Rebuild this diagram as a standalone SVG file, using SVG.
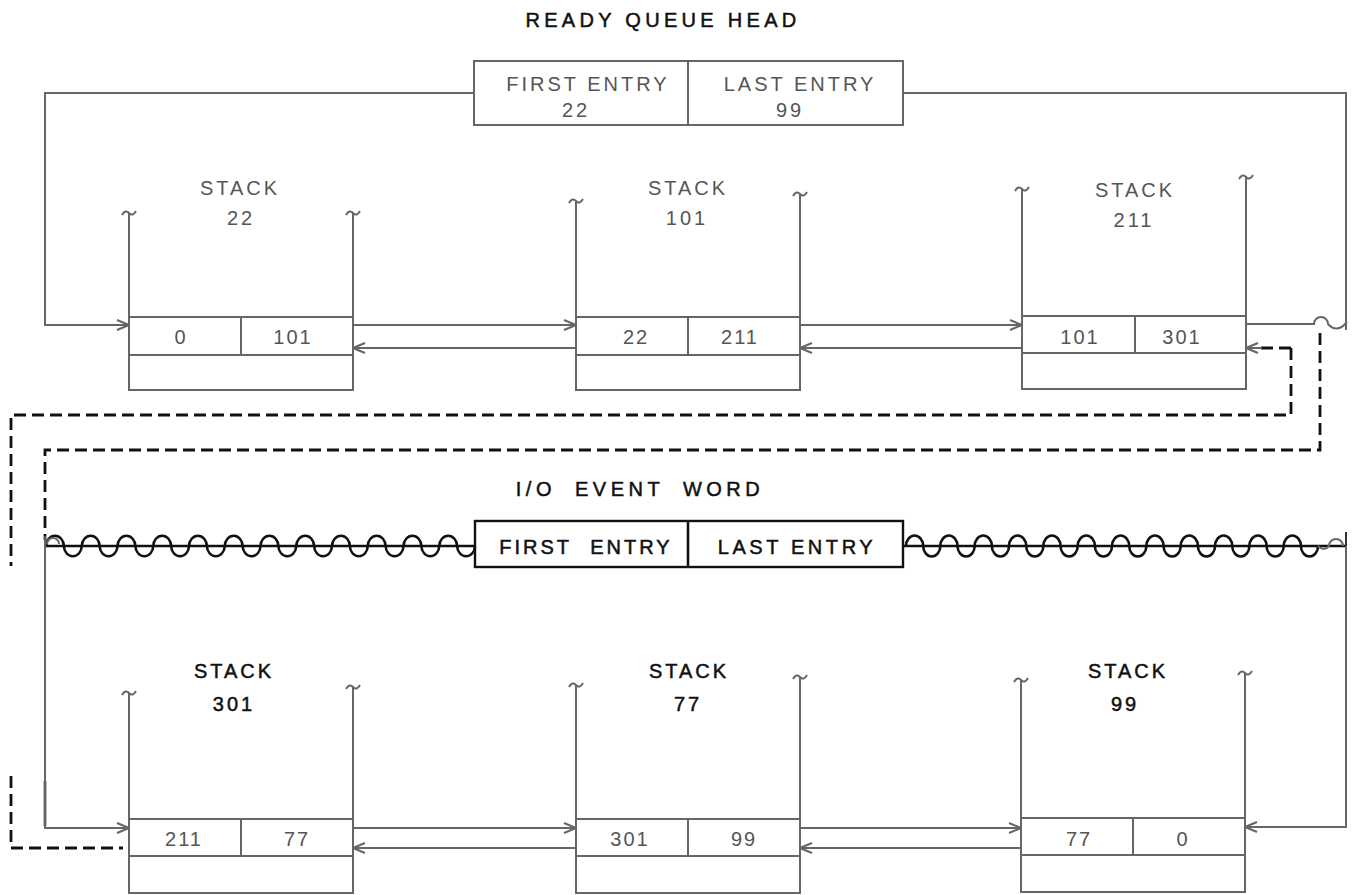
<svg xmlns="http://www.w3.org/2000/svg" width="1353" height="895" viewBox="0 0 1353 895">
<style>
.g{fill:none;stroke:#666;stroke-width:2}
.k{fill:none;stroke:#111;stroke-width:2.6}
.d{fill:none;stroke:#111;stroke-width:2.8;stroke-dasharray:12 6}
.t{font-family:"Liberation Sans",Arial,sans-serif;font-size:20px;fill:#555;text-anchor:middle;letter-spacing:3px}
.tb{font-family:"Liberation Sans",Arial,sans-serif;font-size:20px;fill:#111;stroke:#111;stroke-width:0.5;text-anchor:middle;letter-spacing:3px}
.c{font-family:"Liberation Sans",Arial,sans-serif;font-size:20px;fill:#555;text-anchor:middle;letter-spacing:2px}
</style>
<defs>
<marker id="ah" markerWidth="14" markerHeight="12" refX="13" refY="6" orient="auto" markerUnits="userSpaceOnUse">
<path d="M1,1 L13,6 L1,11" fill="none" stroke="#666" stroke-width="2"/>
</marker>
<path id="tl" d="M-7,2 Q-3.5,-4 0,0 T7,-2" fill="none" stroke="#666" stroke-width="2"/>
</defs>

<g id="title-ready">
<text class="tb" x="663" y="27" style="letter-spacing:4.3px">READY QUEUE HEAD</text>
</g>
<g id="ready-queue-head">
<rect class="g" x="474" y="61" width="429" height="64"/>
<line class="g" x1="688" y1="61" x2="688" y2="125"/>
<text class="t" x="588" y="91">FIRST ENTRY</text>
<text class="t" x="576" y="117">22</text>
<text class="t" x="800" y="91">LAST ENTRY</text>
<text class="t" x="790" y="117">99</text>
</g>

<g id="stack-22">
<line class="g" x1="129" y1="213" x2="129" y2="317"/>
<line class="g" x1="353" y1="213" x2="353" y2="317"/>
<use href="#tl" x="129" y="213"/><use href="#tl" x="353" y="213"/>
<rect class="g" x="129" y="317" width="224" height="73"/>
<line class="g" x1="129" y1="355" x2="353" y2="355"/>
<line class="g" x1="241" y1="317" x2="241" y2="355"/>
<text class="t" x="240" y="195">STACK</text>
<text class="t" x="241" y="225">22</text>
<text class="c" x="181" y="344">0</text>
<text class="c" x="293" y="344">101</text>
</g>
<g id="stack-101">
<line class="g" x1="576" y1="201" x2="576" y2="317"/>
<line class="g" x1="800" y1="194" x2="800" y2="317"/>
<use href="#tl" x="576" y="201"/><use href="#tl" x="800" y="194"/>
<rect class="g" x="576" y="317" width="224" height="73"/>
<line class="g" x1="576" y1="355" x2="800" y2="355"/>
<line class="g" x1="688" y1="317" x2="688" y2="355"/>
<text class="t" x="688" y="195">STACK</text>
<text class="t" x="687" y="225">101</text>
<text class="c" x="636" y="344">22</text>
<text class="c" x="740" y="344">211</text>
</g>
<g id="stack-211">
<line class="g" x1="1022" y1="189" x2="1022" y2="316"/>
<line class="g" x1="1246" y1="177" x2="1246" y2="316"/>
<use href="#tl" x="1022" y="189"/><use href="#tl" x="1246" y="177"/>
<rect class="g" x="1022" y="316" width="224" height="73"/>
<line class="g" x1="1022" y1="353" x2="1246" y2="353"/>
<line class="g" x1="1135" y1="316" x2="1135" y2="353"/>
<text class="t" x="1135" y="197">STACK</text>
<text class="t" x="1134" y="227">211</text>
<text class="c" x="1080" y="344">101</text>
<text class="c" x="1182" y="344">301</text>
</g>

<g id="title-io">
<text class="tb" x="640" y="496" style="letter-spacing:4.5px;word-spacing:9px">I/O EVENT WORD</text>
</g>
<g id="io-event-word">
<rect x="475" y="521" width="428" height="46" fill="none" stroke="#111" stroke-width="2.4"/>
<line class="k" x1="688" y1="521" x2="688" y2="567"/>
<text class="tb" x="586" y="554" style="word-spacing:10px">FIRST ENTRY</text>
<text class="tb" x="797" y="554" style="letter-spacing:3.6px">LAST ENTRY</text>
</g>

<g id="stack-301">
<line class="g" x1="129" y1="693" x2="129" y2="819"/>
<line class="g" x1="353" y1="687" x2="353" y2="819"/>
<use href="#tl" x="129" y="693"/><use href="#tl" x="353" y="687"/>
<rect class="g" x="129" y="819" width="224" height="74"/>
<line class="g" x1="129" y1="856" x2="353" y2="856"/>
<line class="g" x1="241" y1="819" x2="241" y2="856"/>
<text class="tb" x="234" y="678">STACK</text>
<text class="tb" x="234" y="711">301</text>
<text class="c" x="184" y="846">211</text>
<text class="c" x="297" y="846">77</text>
</g>
<g id="stack-77">
<line class="g" x1="576" y1="685" x2="576" y2="819"/>
<line class="g" x1="800" y1="677" x2="800" y2="819"/>
<use href="#tl" x="576" y="685"/><use href="#tl" x="800" y="677"/>
<rect class="g" x="576" y="819" width="224" height="74"/>
<line class="g" x1="576" y1="856" x2="800" y2="856"/>
<line class="g" x1="688" y1="819" x2="688" y2="856"/>
<text class="tb" x="689" y="678">STACK</text>
<text class="tb" x="688" y="711">77</text>
<text class="c" x="630" y="846">301</text>
<text class="c" x="744" y="846">99</text>
</g>
<g id="stack-99">
<line class="g" x1="1021" y1="680" x2="1021" y2="818"/>
<line class="g" x1="1245" y1="673" x2="1245" y2="818"/>
<use href="#tl" x="1021" y="680"/><use href="#tl" x="1245" y="673"/>
<rect class="g" x="1021" y="818" width="224" height="74"/>
<line class="g" x1="1021" y1="855" x2="1245" y2="855"/>
<line class="g" x1="1133" y1="818" x2="1133" y2="855"/>
<text class="tb" x="1128" y="678">STACK</text>
<text class="tb" x="1125" y="711">99</text>
<text class="c" x="1079" y="846">77</text>
<text class="c" x="1183" y="846">0</text>
</g>

<g id="connectors">
<path class="g" d="M474,93 H45 V325 H129" marker-end="url(#ah)"/>
<path class="g" d="M903,93 H1346 V330"/>
<line class="g" x1="353" y1="325" x2="576" y2="325" marker-end="url(#ah)"/>
<line class="g" x1="576" y1="348" x2="353" y2="348" marker-end="url(#ah)"/>
<line class="g" x1="800" y1="325" x2="1022" y2="325" marker-end="url(#ah)"/>
<line class="g" x1="1022" y1="348" x2="800" y2="348" marker-end="url(#ah)"/>
<path class="g" d="M1246,324 H1314 A7,7 0 0 1 1328,324 Q1337,334 1347,322"/>
<path class="d" d="M1291,348 H1256"/>
<path class="g" d="M1262,348 H1246" marker-end="url(#ah)"/>
<path class="d" d="M1291,348 V415 H11 V566"/>
<path class="d" d="M1320,333 V450 H45 V540"/>
<path class="d" d="M11,776 V848 H123"/>
<line x1="45" y1="781" x2="45" y2="826" stroke="#111" stroke-width="2.6"/>
<line x1="45" y1="546" x2="475" y2="546" stroke="#111" stroke-width="2.6"/>
<line x1="903" y1="546" x2="1346" y2="546" stroke="#111" stroke-width="2.6"/>
<path class="k" d="M46,546 a8.94,10.5 0 0 1 17.875,0 a8.94,10.5 0 0 0 17.875,0 a8.94,10.5 0 0 1 17.875,0 a8.94,10.5 0 0 0 17.875,0 a8.94,10.5 0 0 1 17.875,0 a8.94,10.5 0 0 0 17.875,0 a8.94,10.5 0 0 1 17.875,0 a8.94,10.5 0 0 0 17.875,0 a8.94,10.5 0 0 1 17.875,0 a8.94,10.5 0 0 0 17.875,0 a8.94,10.5 0 0 1 17.875,0 a8.94,10.5 0 0 0 17.875,0 a8.94,10.5 0 0 1 17.875,0 a8.94,10.5 0 0 0 17.875,0 a8.94,10.5 0 0 1 17.875,0 a8.94,10.5 0 0 0 17.875,0 a8.94,10.5 0 0 1 17.875,0 a8.94,10.5 0 0 0 17.875,0 a8.94,10.5 0 0 1 17.875,0 a8.94,10.5 0 0 0 17.875,0 a8.94,10.5 0 0 1 17.875,0 a8.94,10.5 0 0 0 17.875,0 a8.94,10.5 0 0 1 17.875,0 a8.94,10.5 0 0 0 17.875,0"/>
<path class="k" d="M906,546 a8.58,10.5 0 0 1 17.17,0 a8.58,10.5 0 0 0 17.17,0 a8.58,10.5 0 0 1 17.17,0 a8.58,10.5 0 0 0 17.17,0 a8.58,10.5 0 0 1 17.17,0 a8.58,10.5 0 0 0 17.17,0 a8.58,10.5 0 0 1 17.17,0 a8.58,10.5 0 0 0 17.17,0 a8.58,10.5 0 0 1 17.17,0 a8.58,10.5 0 0 0 17.17,0 a8.58,10.5 0 0 1 17.17,0 a8.58,10.5 0 0 0 17.17,0 a8.58,10.5 0 0 1 17.17,0 a8.58,10.5 0 0 0 17.17,0 a8.58,10.5 0 0 1 17.17,0 a8.58,10.5 0 0 0 17.17,0 a8.58,10.5 0 0 1 17.17,0 a8.58,10.5 0 0 0 17.17,0 a8.58,10.5 0 0 1 17.17,0 a8.58,10.5 0 0 0 17.17,0 a8.58,10.5 0 0 1 17.17,0 a8.58,10.5 0 0 0 17.17,0 a8.58,10.5 0 0 1 17.17,0 a8.58,10.5 0 0 0 17.17,0"/>
<path class="g" d="M1318,546 Q1324,552 1329,546 A7,7 0 0 1 1343,546"/>
<path class="g" d="M47,544 A6,6 0 0 1 59,544"/>
<line x1="45" y1="536" x2="45" y2="560" stroke="#555" stroke-width="2"/>
<line x1="1346" y1="532" x2="1346" y2="560" stroke="#333" stroke-width="2"/>
<path class="g" d="M45,540 V828 H129" marker-end="url(#ah)"/>
<line class="g" x1="353" y1="828" x2="576" y2="828" marker-end="url(#ah)"/>
<line class="g" x1="576" y1="848" x2="353" y2="848" marker-end="url(#ah)"/>
<line class="g" x1="800" y1="828" x2="1021" y2="828" marker-end="url(#ah)"/>
<line class="g" x1="1021" y1="848" x2="800" y2="848" marker-end="url(#ah)"/>
<path class="g" d="M1346,546 V827 H1245" marker-end="url(#ah)"/>
</g>
</svg>
